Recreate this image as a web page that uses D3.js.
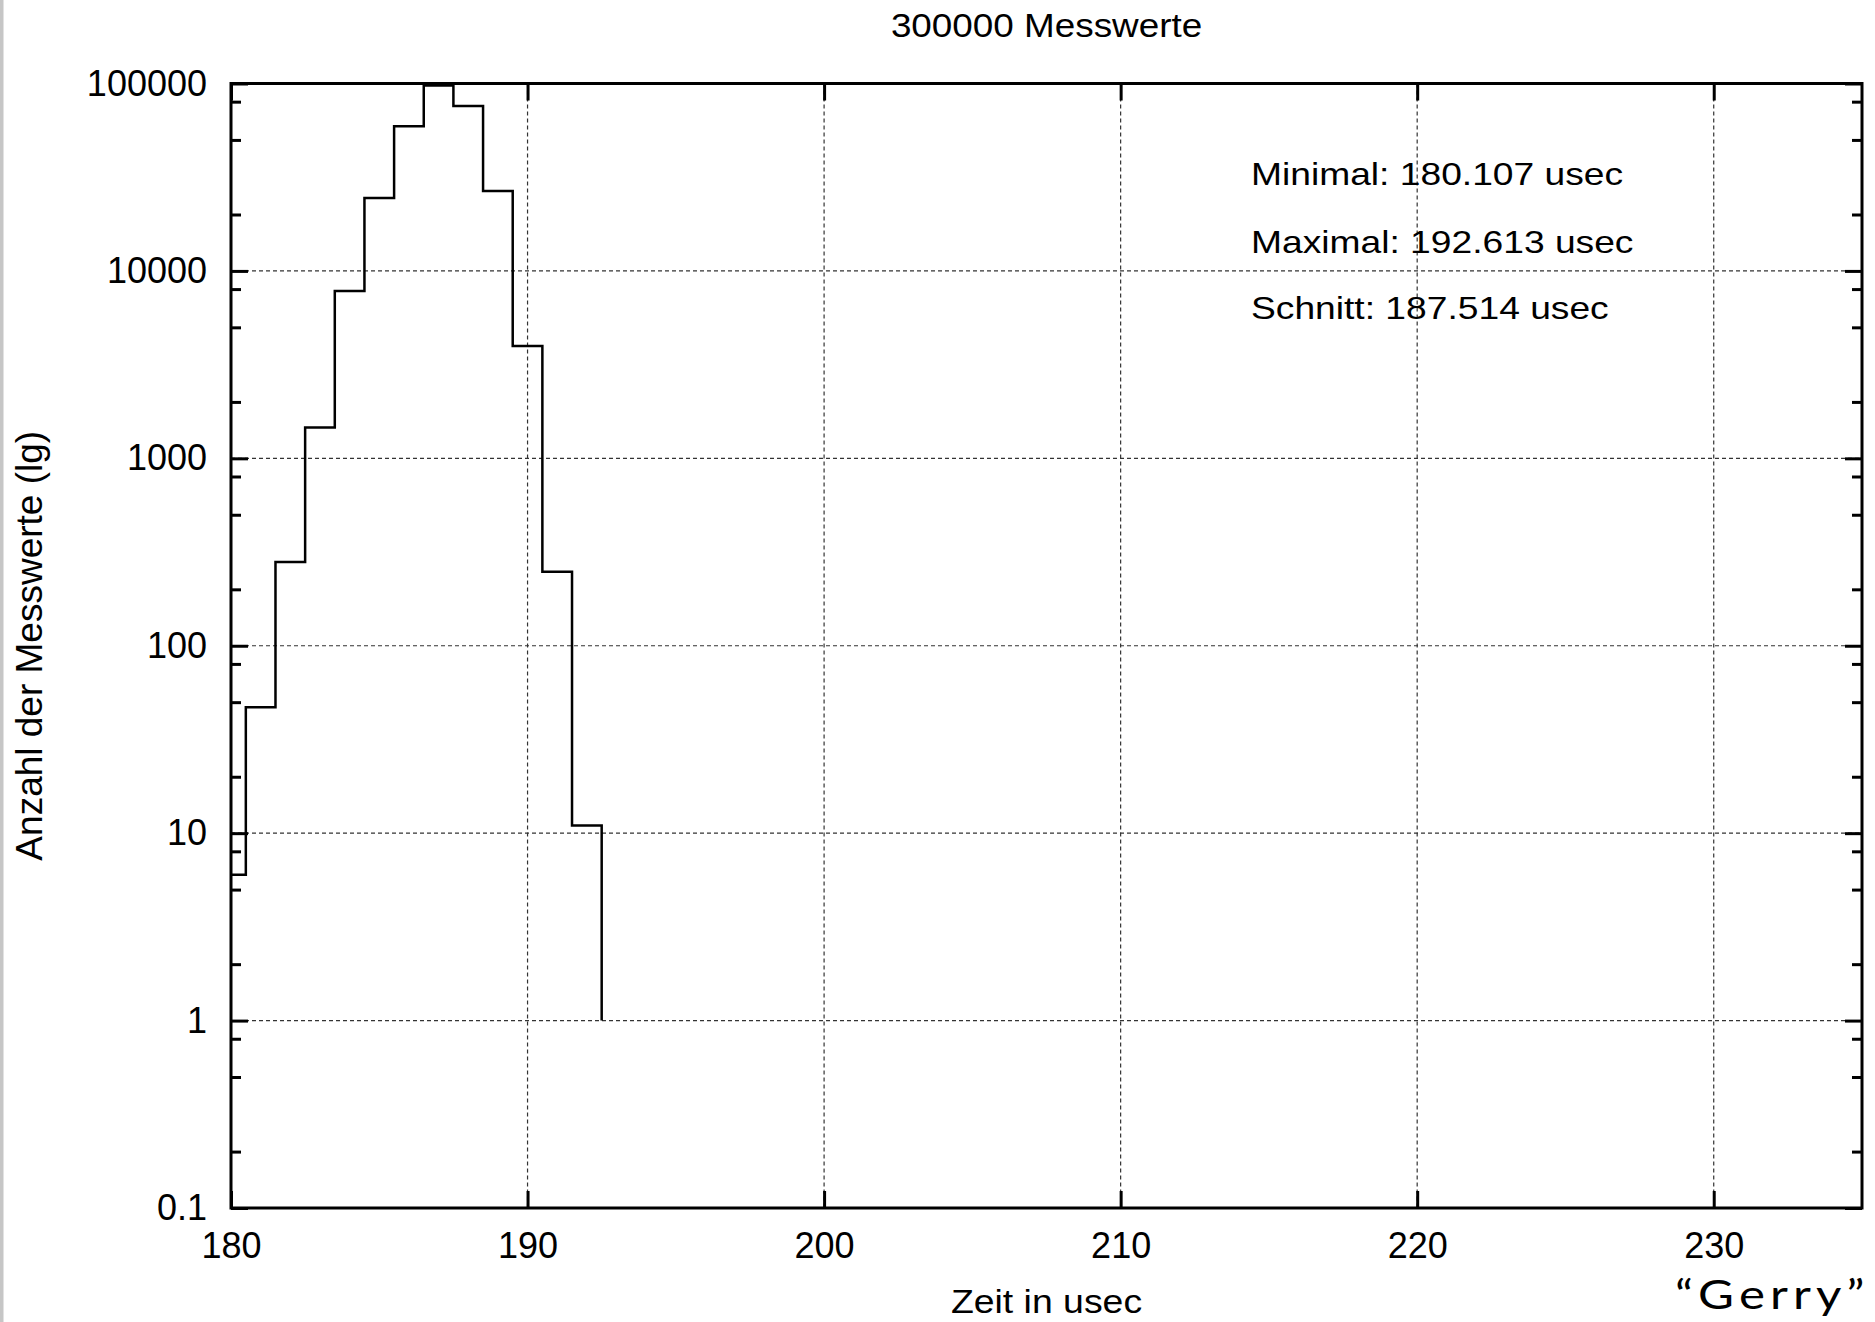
<!DOCTYPE html>
<html>
<head>
<meta charset="utf-8">
<script src="https://cdn.jsdelivr.net/npm/d3@7/dist/d3.min.js"></script>
<style>
  html, body { margin: 0; padding: 0; background: #fff; }
  svg { display: block; }
  text { font-family: "Liberation Sans", Arial, Helvetica, sans-serif; fill: #000; }
</style>
</head>
<body>
<svg id="chart" width="1875" height="1322"></svg>
<script>
// ---- data ----
const binStarts = [179.5, 180.5, 181.5, 182.5, 183.5, 184.5, 185.5, 186.5, 187.5, 188.5, 189.5, 190.5, 191.5, 192.5];
const counts    = [6, 47, 280, 1460, 7820, 24500, 59200, 97600, 75900, 26700, 3980, 248, 11, 1];
const xTickValues = [180, 190, 200, 210, 220, 230];
const xTickLabels = ["180", "190", "200", "210", "220", "230"];
const yTickValues = [0.1, 1, 10, 100, 1000, 10000, 100000];
const yTickLabels = ["0.1", "1", "10", "100", "1000", "10000", "100000"];
const yMinorTicks = [0.2, 0.5, 0.8, 2, 5, 8, 20, 50, 80, 200, 500, 800, 2000, 5000, 8000, 20000, 50000, 80000];
const xDomain = [180, 235];
const yDomain = [0.1, 100000];
const titleText = "300000 Messwerte";
const xLabelText = "Zeit in usec";
const yLabelText = "Anzahl der Messwerte (lg)";
const statsLines = ["Minimal: 180.107 usec", "Maximal: 192.613 usec", "Schnitt: 187.514 usec"];
const signature = "\u201CGerry\u201D";

// ---- layout ----
const L = 231, R = 1862, T = 83.5, B = 1208;
const svg = d3.select("#chart");

svg.append("rect").attr("x", 0).attr("y", 0).attr("width", 1875).attr("height", 1322).attr("fill", "#fff");
svg.append("rect").attr("x", 0).attr("y", 0).attr("width", 3.5).attr("height", 1322).attr("fill", "#c6c6c6");

const x = d3.scaleLinear().domain(xDomain).range([L, R]);
const y = d3.scaleLog().domain(yDomain).range([B, T]);

// grid
const grid = svg.append("g").attr("stroke", "#333").attr("stroke-width", 1.2).attr("stroke-dasharray", "4,3").attr("fill", "none");
grid.selectAll("line.gx").data(xTickValues.filter(v => v > xDomain[0] && v < xDomain[1])).enter()
  .append("line").attr("class", "gx")
  .attr("x1", d => x(d)).attr("x2", d => x(d)).attr("y1", T).attr("y2", B);
grid.selectAll("line.gy").data(yTickValues.filter(v => v > yDomain[0] && v < yDomain[1])).enter()
  .append("line").attr("class", "gy")
  .attr("y1", d => y(d)).attr("y2", d => y(d)).attr("x1", L).attr("x2", R);

// axes
function styleAxis(g) {
  g.select(".domain").remove();
  g.selectAll(".tick line").attr("stroke", "#000").attr("stroke-width", 3);
  g.selectAll(".tick text").style("font-size", "36px").attr("fill", "#000");
}
const fmtX = d => xTickLabels[xTickValues.indexOf(d)];
const fmtY = d => yTickLabels[yTickValues.indexOf(d)];

svg.append("g").attr("transform", `translate(0,${B})`)
  .call(d3.axisBottom(x).tickValues(xTickValues).tickFormat(fmtX).tickSize(-17).tickSizeOuter(0).tickPadding(24))
  .call(styleAxis);
svg.append("g").attr("transform", `translate(0,${T})`)
  .call(d3.axisTop(x).tickValues(xTickValues).tickFormat("").tickSize(-17).tickSizeOuter(0))
  .call(styleAxis);
svg.append("g").attr("transform", `translate(${L},0)`)
  .call(d3.axisLeft(y).tickValues(yTickValues).tickFormat(fmtY).tickSize(-17).tickSizeOuter(0).tickPadding(24))
  .call(styleAxis);
svg.append("g").attr("transform", `translate(${L},0)`)
  .call(d3.axisLeft(y).tickValues(yMinorTicks).tickFormat("").tickSize(-10).tickSizeOuter(0))
  .call(styleAxis);
svg.append("g").attr("transform", `translate(${R},0)`)
  .call(d3.axisRight(y).tickValues(yTickValues).tickFormat("").tickSize(-17).tickSizeOuter(0))
  .call(styleAxis);
svg.append("g").attr("transform", `translate(${R},0)`)
  .call(d3.axisRight(y).tickValues(yMinorTicks).tickFormat("").tickSize(-10).tickSizeOuter(0))
  .call(styleAxis);

// histogram steps
svg.append("clipPath").attr("id", "plotclip")
  .append("rect").attr("x", L).attr("y", T - 2).attr("width", R - L).attr("height", B - T + 4);
const pts = binStarts.map((t, i) => ({ t: t, n: counts[i] }));
const line = d3.line().x(d => x(d.t)).y(d => y(d.n)).curve(d3.curveStepAfter);
svg.append("path").datum(pts)
  .attr("clip-path", "url(#plotclip)")
  .attr("d", line)
  .attr("fill", "none").attr("stroke", "#000").attr("stroke-width", 2.5);

// border
svg.append("rect").attr("x", L).attr("y", T).attr("width", R - L).attr("height", B - T)
  .attr("fill", "none").attr("stroke", "#000").attr("stroke-width", 3);

// texts
function stretchedText(px, py, str, size, sx, anchor) {
  const g = svg.append("g").attr("transform", `translate(${px},${py}) scale(${sx},1)`);
  const t = g.append("text").attr("x", 0).attr("y", 0).attr("text-anchor", anchor)
    .style("font-size", size + "px").text(str);
  return t;
}
stretchedText((L + R) / 2, 37, titleText, 33.5, 1.1, "middle");
stretchedText((L + R) / 2, 1313, xLabelText, 34, 1.1, "middle");
const statBase = [185, 252.5, 319];
statsLines.forEach((s, i) => stretchedText(1251, statBase[i], s, 31, 1.2, "start"));

svg.append("text")
  .attr("transform", `translate(41.5,${(T + B) / 2}) rotate(-90)`)
  .attr("text-anchor", "middle")
  .style("font-size", "37px")
  .text(yLabelText);

stretchedText(1675, 1309, signature, 41, 1.2, "start")
  .attr("textLength", 158).attr("lengthAdjust", "spacing")
  .style("font-family", "Lato, 'Open Sans', sans-serif")
  .style("font-weight", 400);
</script>
</body>
</html>
